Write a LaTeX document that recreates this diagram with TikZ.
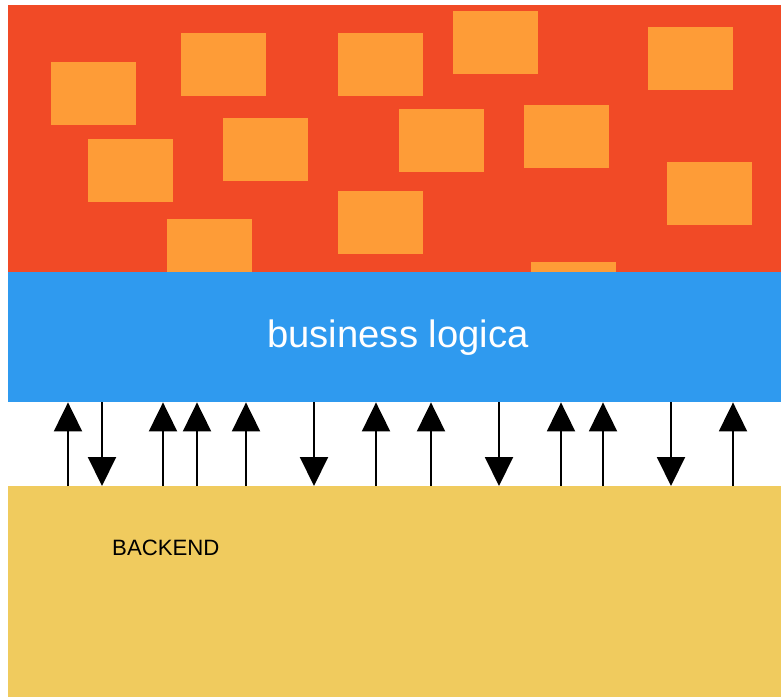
\documentclass[tikz,border=0pt]{standalone}
\usepackage{fontspec}
\setmainfont{Liberation Sans}
\usetikzlibrary{arrows.meta}

\definecolor{frontred}{HTML}{F14A26}
\definecolor{blokorange}{HTML}{FE9C37}
\definecolor{logicblue}{HTML}{2F9AEF}
\definecolor{backyellow}{HTML}{F0CB5E}

\tikzset{
  band/.style={fill=#1, draw=none, inner sep=0pt, anchor=north west},
  blok/.style={fill=blokorange},
  pijl/.style={line width=2pt, -{Triangle[width=28pt,length=29pt]}},
}

\begin{document}
\begin{tikzpicture}[x=1pt, y=-1pt]
		\useasboundingbox (0,0) rectangle (781,697);
		
		% Frontend met schermblokken
		\node[band=frontred, minimum width=773pt, minimum height=267pt] (frontend) at (8,5) {};
		\foreach \bx/\by in {51/62, 181/33, 338/33, 88/139, 223/118, 167/219, 338/191,
			453/11, 648/27, 399/109, 524/105, 667/162, 531/262}
		\fill[blok] (\bx,\by) rectangle ++(85,63);
		
		% Business logica
		\node[band=logicblue, minimum width=773pt, minimum height=130pt] (logica) at (8,272) {};
		\node[anchor=base, inner sep=0pt, text=white, font=\fontsize{38.2}{42}\selectfont] (logicatekst) at (398,347) {business logica};
		
		% Backend
		\node[band=backyellow, minimum width=773pt, minimum height=211pt] (backend) at (8,486) {};
		\node[anchor=base west, inner sep=0pt, font=\fontsize{22.2}{25}\selectfont] (backendtekst) at (112,555) {BACKEND};
		
		% Verzoeken omhoog
		\foreach \x in {68,163,197,246,376,431,561,603,733} {
			\coordinate (p) at (\x,0);
			\draw[pijl] (backend.north -| p) -- (logica.south -| p);
		}
		
		% Antwoorden omlaag
		\foreach \x in {102,314,499,671} {
			\coordinate (p) at (\x,0);
			\draw[pijl] (logica.south -| p) -- (backend.north -| p);
		}
	\end{tikzpicture}
\end{document}
